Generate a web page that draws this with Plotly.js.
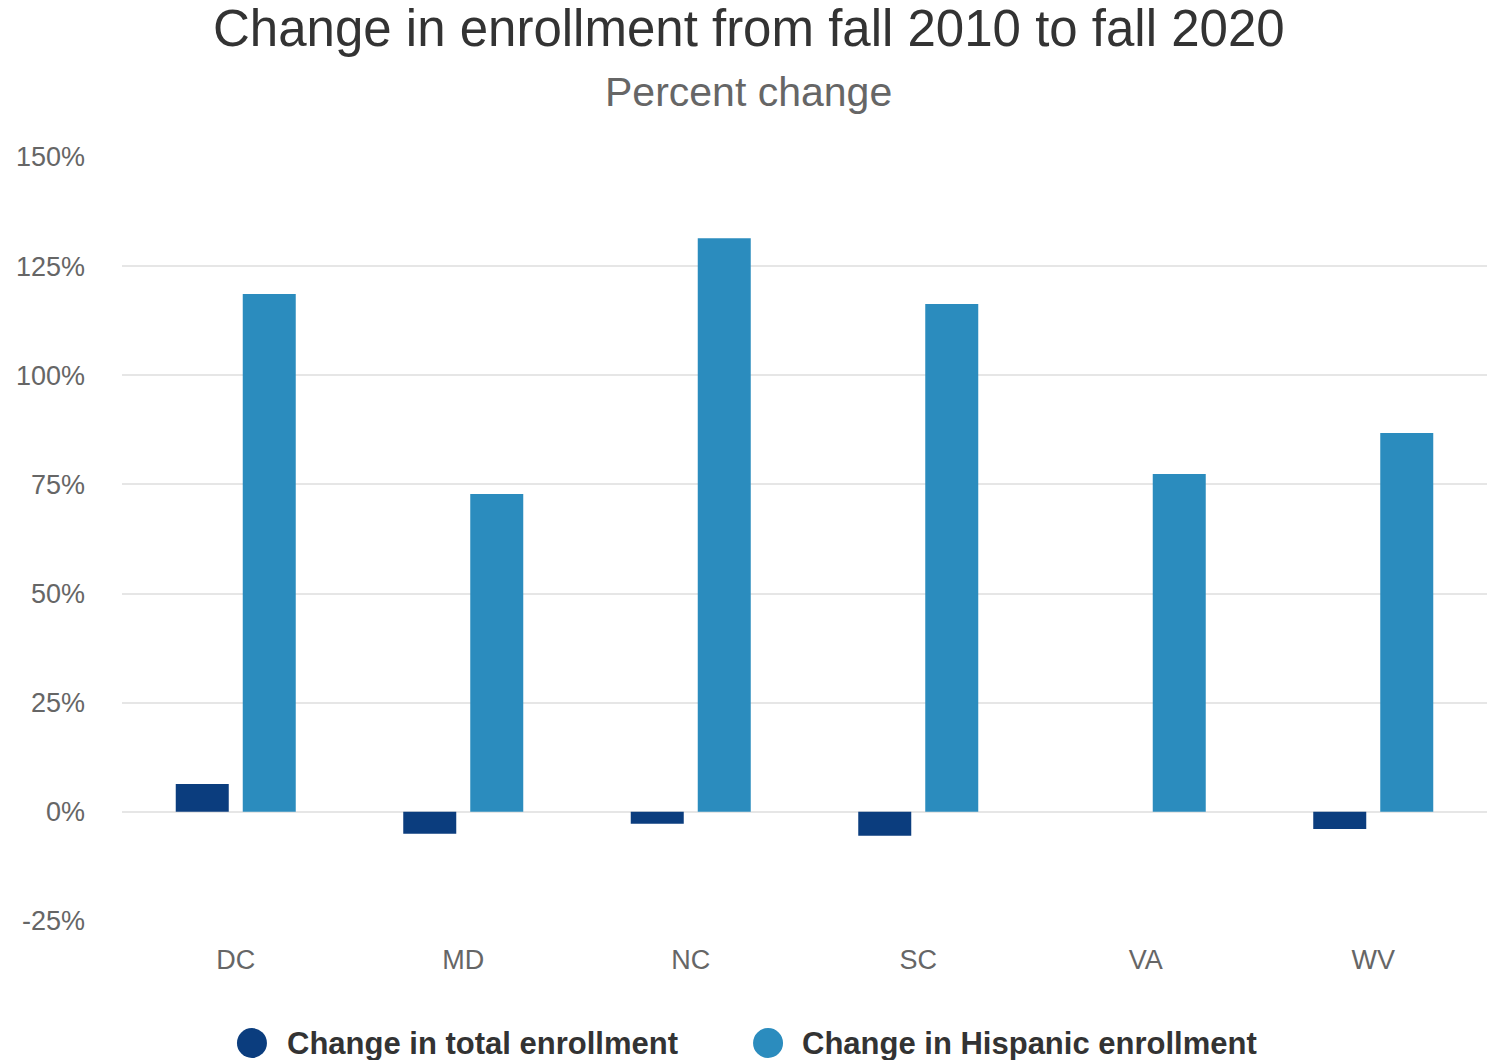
<!DOCTYPE html>
<html>
<head>
<meta charset="utf-8">
<script src="https://cdn.plot.ly/plotly-3.0.1.min.js"></script>
<style>html,body{margin:0;padding:0;background:#fff;}#chart{width:1498px;height:1060px;}</style>
</head>
<body>
<div id="chart"></div>
<script>
const states = ["DC", "MD", "NC", "SC", "VA", "WV"];
const totalChange = [6.4, -5.0, -2.7, -5.5, 0.0, -3.9];
const hispanicChange = [118.6, 72.8, 131.4, 116.3, 77.4, 86.8];
const tickVals = [-25, 0, 25, 50, 75, 100, 125, 150];
const tickText = ["-25%", "0%", "25%", "50%", "75%", "100%", "125%", "150%"];
const seriesNames = ["Change in total enrollment", "Change in Hispanic enrollment"];
const colors = ["#0b3d7e", "#2b8cbe"];
const titleText = "Change in enrollment from fall 2010 to fall 2020";
const subtitleText = "Percent change";

const font = "Liberation Sans, Arial, sans-serif";

const traces = [
  {type: "bar", x: states, y: totalChange, name: seriesNames[0], showlegend: false,
   marker: {color: colors[0]}, hoverinfo: "x+y"},
  {type: "bar", x: states, y: hispanicChange, name: seriesNames[1], showlegend: false,
   marker: {color: colors[1]}, hoverinfo: "x+y"}
];

// legend built from circles + labels
const legendX = [0.0952, 0.4733];
const legendTextX = [0.1194, 0.4967];
const legendY = -0.1597;
const shapes = seriesNames.map((n, i) => ({
  type: "circle", xref: "paper", yref: "paper", xsizemode: "pixel", ysizemode: "pixel",
  xanchor: legendX[i], yanchor: legendY, x0: -15, x1: 15, y0: -15, y1: 15,
  fillcolor: colors[i], line: {width: 0}
}));
const annotations = [
  {text: titleText, xref: "paper", yref: "paper", x: 0.459, y: 1.1688, xanchor: "center", yanchor: "middle",
   showarrow: false, font: {family: font, size: 51, color: "#333"}},
  {text: subtitleText, xref: "paper", yref: "paper", x: 0.459, y: 1.0851, xanchor: "center", yanchor: "middle",
   showarrow: false, font: {family: font, size: 41, color: "#666"}}
].concat(seriesNames.map((n, i) => ({
  text: "<b>" + n + "</b>", xref: "paper", yref: "paper", x: legendTextX[i], y: legendY,
  xanchor: "left", yanchor: "middle", showarrow: false,
  font: {family: font, size: 31, color: "#333"}
})));

const layout = {
  width: 1498, height: 1060,
  paper_bgcolor: "#fff", plot_bgcolor: "#fff",
  margin: {l: 122, r: 11, t: 157, b: 139},
  font: {family: font, color: "#666"},
  barmode: "group",
  bargap: 0.411,
  bargroupgap: 0.209,
  xaxis: {
    type: "category",
    tickfont: {family: font, size: 27, color: "#666"},
    showgrid: false, zeroline: false, showline: false, ticks: "",
    ticklabelstandoff: 20, automargin: false
  },
  yaxis: {
    range: [-25, 150],
    tickvals: tickVals, ticktext: tickText,
    tickfont: {family: font, size: 27, color: "#666"},
    gridcolor: "#e6e6e6", gridwidth: 2,
    zeroline: true, zerolinecolor: "#e6e6e6", zerolinewidth: 2,
    showline: false, ticks: "", ticklabelstandoff: 36, automargin: false
  },
  shapes: shapes,
  annotations: annotations,
  showlegend: false
};

Plotly.newPlot("chart", traces, layout, {displayModeBar: false, staticPlot: true});
</script>
</body>
</html>
